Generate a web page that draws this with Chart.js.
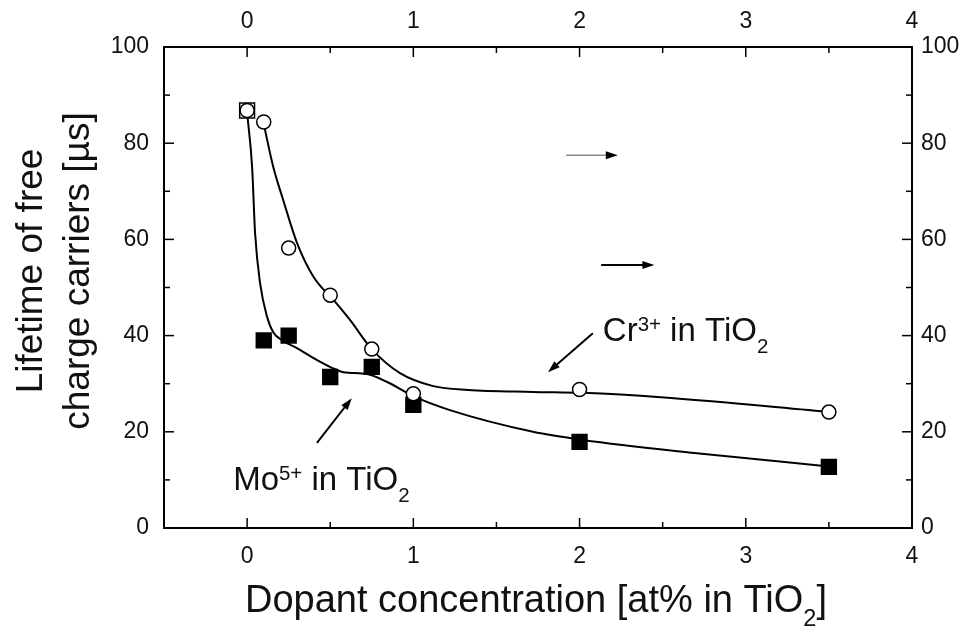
<!DOCTYPE html>
<html>
<head>
<meta charset="utf-8">
<script src="https://cdn.jsdelivr.net/npm/chart.js@4.4.1/dist/chart.umd.min.js"></script>
<style>
  html, body { margin: 0; padding: 0; background: #fff; }
  #wrap { width: 965px; height: 626px; }
</style>
</head>
<body>
<div id="wrap"><canvas id="chart" width="965" height="626"></canvas></div>
<script>
  // measured points
  const dopant = [0, 0.1, 0.25, 0.5, 0.75, 1, 2, 3.5];
  const crLifetime = [86.8, 84.4, 58.2, 48.4, 37.2, 27.9, 28.8, 24.1];
  const moLifetime = [86.8, 39.0, 40.0, 31.4, 33.5, 25.6, 17.9, 12.7];

  // guide curves
  const crFitX = [0.1, 0.157, 0.217, 0.3, 0.4, 0.52, 0.62, 0.75, 0.92, 1.12, 1.33, 1.72, 2.02, 2.49, 3.52];
  const crFitY = [84.0, 75.1, 68.2, 59.3, 52.2, 47.4, 43.2, 37.2, 32.2, 29.5, 28.7, 28.3, 28.1, 27.2, 24.1];
  const moFitX = [0, 0.03, 0.048, 0.078, 0.12, 0.157, 0.217, 0.3, 0.4, 0.51, 0.58, 0.72, 0.84, 1.0, 1.22, 1.72, 2.02, 2.69, 3.53];
  const moFitY = [86.3, 75.1, 61.3, 50.9, 43.9, 40.7, 38.9, 37.4, 35.3, 33.3, 32.4, 32.0, 30.4, 27.4, 24.5, 20.0, 18.3, 15.6, 12.7];

  const xTicks = [0, 1, 2, 3, 4];
  const xMinor = [0.5, 1.5, 2.5, 3.5];
  const yTicks = [0, 20, 40, 60, 80, 100];
  const yMinor = [10, 30, 50, 70, 90];

  const FONT = '"Liberation Sans", Arial, Helvetica, sans-serif';
  const INK = "#111";

  const arrows = [
    { from: [2.08, 40.5], to: [1.81, 32.4], color: "#000", width: 2 },
    { from: [0.42, 17.7], to: [0.63, 27.0], color: "#000", width: 2 },
    { from: [1.92, 77.5], to: [2.23, 77.5], color: "#888", width: 1.5 },
    { from: [2.13, 54.7], to: [2.45, 54.7], color: "#000", width: 2 },
  ];
  const notes = [
    { at: [2.14, 38.9], parts: [["Cr", 0], ["3+", 1], [" in TiO", 0], ["2", -1]] },
    { at: [-0.084, 7.9], parts: [["Mo", 0], ["5+", 1], [" in TiO", 0], ["2", -1]] },
  ];

  function zip(xs, ys) {
    return xs.map((x, i) => ({ x, y: ys[i] }));
  }

  function drawRich(ctx, parts, x, y, size, align) {
    const segs = parts.map(([t, k]) => ({
      t,
      k,
      font: (k ? size * 0.62 : size) + "px " + FONT,
    }));
    let total = 0;
    segs.forEach((s) => {
      ctx.font = s.font;
      s.w = ctx.measureText(s.t).width;
      total += s.w;
    });
    let cx = align === "center" ? x - total / 2 : x;
    ctx.textAlign = "left";
    ctx.textBaseline = "alphabetic";
    segs.forEach((s) => {
      ctx.font = s.font;
      const dy = s.k > 0 ? -0.3 * size : s.k < 0 ? 0.37 * size : 0;
      ctx.fillText(s.t, cx, y + dy);
      cx += s.w;
    });
  }

  function fixedTicks(values) {
    return (scale) => {
      scale.ticks = values.map((v) => ({ value: v }));
    };
  }

  const innerTicks = {
    id: "innerTicks",
    afterDraw(chart) {
      const { ctx, chartArea: a, scales } = chart;
      ctx.save();
      ctx.strokeStyle = "#000";
      ctx.lineWidth = 1.5;
      const tick = (x1, y1, x2, y2) => {
        ctx.beginPath();
        ctx.moveTo(x1, y1);
        ctx.lineTo(x2, y2);
        ctx.stroke();
      };
      [[xTicks, 10], [xMinor, 6]].forEach(([vals, len]) => {
        vals.forEach((v) => {
          const px = scales.x.getPixelForValue(v);
          tick(px, a.bottom, px, a.bottom - len);
          tick(px, a.top, px, a.top + len);
        });
      });
      [[yTicks, 10], [yMinor, 6]].forEach(([vals, len]) => {
        vals.forEach((v) => {
          const py = scales.y.getPixelForValue(v);
          tick(a.left, py, a.left + len, py);
          tick(a.right, py, a.right - len, py);
        });
      });
      ctx.restore();
    },
  };

  const annotations = {
    id: "annotations",
    afterDatasetsDraw(chart) {
      const { ctx, scales } = chart;
      const px = (p) => [scales.x.getPixelForValue(p[0]), scales.y.getPixelForValue(p[1])];
      ctx.save();
      arrows.forEach((ar) => {
        const [x1, y1] = px(ar.from);
        const [x2, y2] = px(ar.to);
        const ang = Math.atan2(y2 - y1, x2 - x1);
        const head = 12;
        ctx.strokeStyle = ar.color;
        ctx.lineWidth = ar.width;
        ctx.beginPath();
        ctx.moveTo(x1, y1);
        ctx.lineTo(x2 - head * 0.7 * Math.cos(ang), y2 - head * 0.7 * Math.sin(ang));
        ctx.stroke();
        ctx.fillStyle = "#000";
        ctx.beginPath();
        ctx.moveTo(x2, y2);
        ctx.lineTo(x2 - head * Math.cos(ang) + 4 * Math.sin(ang), y2 - head * Math.sin(ang) - 4 * Math.cos(ang));
        ctx.lineTo(x2 - head * Math.cos(ang) - 4 * Math.sin(ang), y2 - head * Math.sin(ang) + 4 * Math.cos(ang));
        ctx.closePath();
        ctx.fill();
      });
      ctx.fillStyle = INK;
      notes.forEach((n) => {
        const [x, y] = px(n.at);
        drawRich(ctx, n.parts, x, y, 33, "left");
      });
      ctx.restore();
    },
    afterDraw(chart) {
      const { ctx, chartArea: a } = chart;
      ctx.save();
      ctx.fillStyle = INK;
      drawRich(
        ctx,
        [["Dopant concentration [at% in TiO", 0], ["2", -1], ["]", 0]],
        (a.left + a.right) / 2 - 2,
        612,
        38,
        "center"
      );
      ctx.translate(0, 271);
      ctx.rotate(-Math.PI / 2);
      ctx.font = "37px " + FONT;
      ctx.textAlign = "center";
      ctx.textBaseline = "alphabetic";
      ctx.fillText("Lifetime of free", 0, 42);
      ctx.fillText("charge carriers [\u00b5s]", 0, 89);
      ctx.restore();
    },
  };

  const tickFont = { family: FONT, size: 23 };

  function axis(position, min, max, values, size, padding) {
    const horizontal = position === "top" || position === "bottom";
    return {
      type: "linear",
      position,
      min,
      max,
      afterBuildTicks: fixedTicks(values),
      afterFit: (s) => {
        if (horizontal) s.height = size;
        else s.width = size;
      },
      grid: { display: false, drawTicks: false },
      border: { display: true, color: "#000", width: 2 },
      ticks: { font: tickFont, color: INK, padding, autoSkip: false, maxRotation: 0 },
    };
  }

  new Chart(document.getElementById("chart"), {
    type: "scatter",
    data: {
      datasets: [
        {
          label: "Cr3+ in TiO2",
          data: zip(dopant, crLifetime),
          pointStyle: "circle",
          pointRadius: 7,
          pointBackgroundColor: "#fff",
          pointBorderColor: "#000",
          pointBorderWidth: 1.5,
          order: 1,
        },
        {
          label: "Mo5+ in TiO2",
          data: zip(dopant, moLifetime),
          pointStyle: "rect",
          pointRadius: 10.5,
          pointBackgroundColor: moLifetime.map((v, i) => (i === 0 ? "#fff" : "#000")),
          pointBorderColor: "#000",
          pointBorderWidth: 1.5,
          order: 2,
        },
        {
          label: "Cr fit",
          data: zip(crFitX, crFitY),
          showLine: true,
          pointRadius: 0,
          borderColor: "#000",
          borderWidth: 2,
          cubicInterpolationMode: "monotone",
          order: 3,
        },
        {
          label: "Mo fit",
          data: zip(moFitX, moFitY),
          showLine: true,
          pointRadius: 0,
          borderColor: "#000",
          borderWidth: 2,
          cubicInterpolationMode: "monotone",
          order: 4,
        },
      ],
    },
    options: {
      responsive: false,
      devicePixelRatio: 1,
      animation: false,
      layout: { padding: 0 },
      plugins: {
        legend: { display: false },
        tooltip: { enabled: false },
      },
      scales: {
        x: axis("bottom", -0.5, 4, xTicks, 98, 15),
        x2: axis("top", -0.5, 4, xTicks, 47, 12),
        y: axis("left", 0, 100, yTicks, 164, 15),
        y2: axis("right", 0, 100, yTicks, 53, 9),
      },
    },
    plugins: [innerTicks, annotations],
  });
</script>
</body>
</html>
